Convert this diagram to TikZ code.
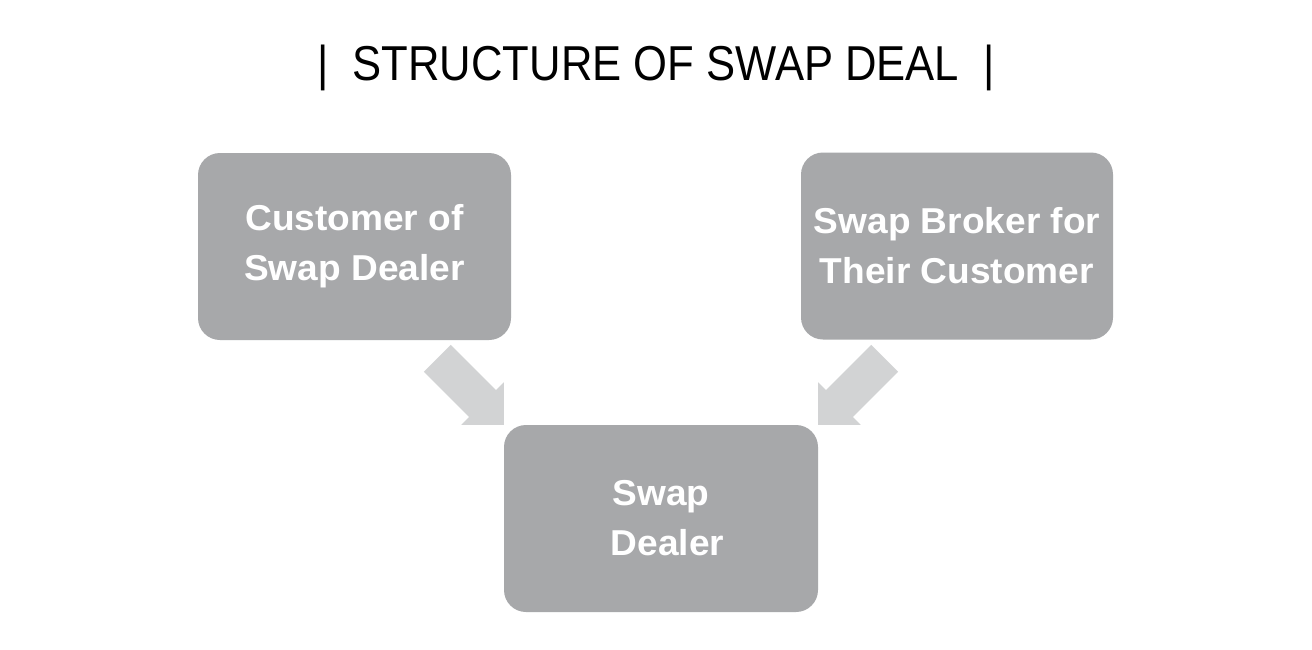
\documentclass[tikz,border=0pt]{standalone}
\usepackage{fontspec}
\setmainfont{Liberation Sans}
\newfontfamily\titlefont[FakeStretch=0.89]{Liberation Sans}
\newfontfamily\boxfont[FakeStretch=1.03]{Liberation Sans Bold}
\usetikzlibrary{calc}
\definecolor{boxgray}{HTML}{A7A8AA}
\definecolor{arrowgray}{HTML}{D2D3D4}
\tikzset{
  box/.style={fill=boxgray, rounded corners=22pt, inner sep=0pt, text=white,
    align=center, font=\boxfont\fontsize{36}{50}\selectfont},
  blockarrow/.style={fill=arrowgray}
}
\begin{document}
\begin{tikzpicture}[x=1pt,y=-1pt]
\fill[white] (0,0) rectangle (1312,649);
\useasboundingbox (0,0) rectangle (1312,649);

\node[anchor=base, font=\titlefont\fontsize{49}{55}\selectfont] (title) at (656,80)
  {|\hspace{24pt}STRUCTURE OF SWAP DEAL\hspace{24pt}|};

\node[box, minimum width=313pt, minimum height=187pt] (cust) at (354.5,246.5)
  {Customer of\\Swap Dealer};
\node[box, minimum width=312pt, minimum height=187pt] (broker) at (957,246)
  {Swap Broker for\\Their Customer};
\node[box, minimum width=314pt, minimum height=187pt] (dealer) at (661,518.5)
  {Swap\\\hspace*{13pt}Dealer};

% left block arrow, tip at the dealer box's top-left corner
\begin{scope}[shift={(dealer.north west)}]
\fill[blockarrow] (0,0) -- (0,-42.4) -- (-7.8,-34.6) -- (-53,-79.9)
  -- (-79.9,-53) -- (-34.6,-7.8) -- (-42.4,0) -- cycle;
\end{scope}
% right block arrow, tip at the dealer box's top-right corner
\begin{scope}[shift={(dealer.north east)}]
\fill[blockarrow] (0,0) -- (0,-42.4) -- (7.8,-34.6) -- (53,-79.9)
  -- (79.9,-53) -- (34.6,-7.8) -- (42.4,0) -- cycle;
\end{scope}
\end{tikzpicture}
\end{document}
